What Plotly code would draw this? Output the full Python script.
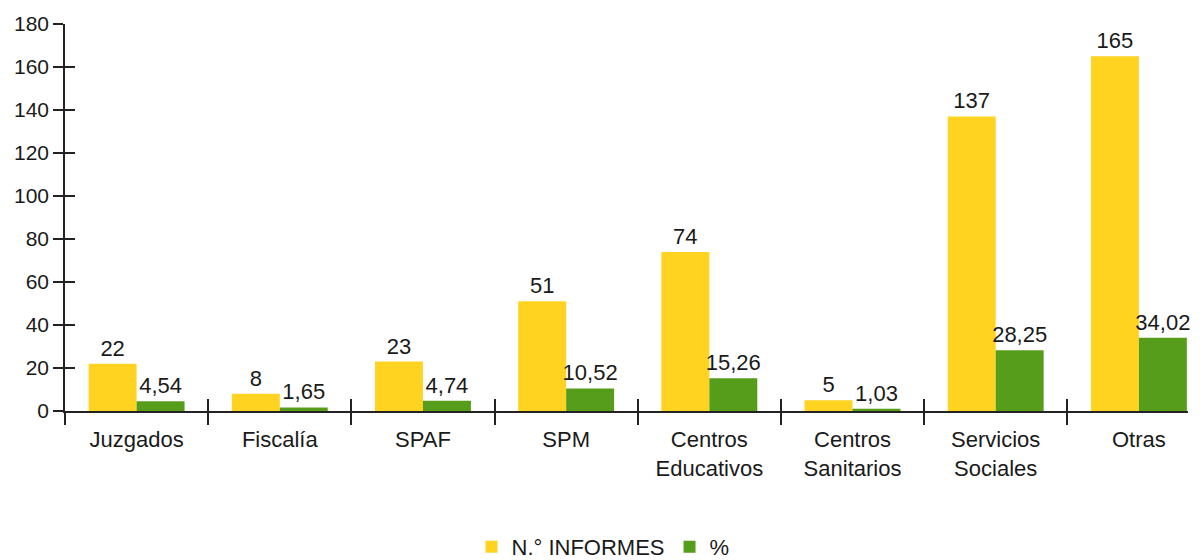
import plotly.graph_objects as go

categories = ["Juzgados", "Fiscalía", "SPAF", "SPM", "Centros<br>Educativos",
              "Centros<br>Sanitarios", "Servicios<br>Sociales", "Otras"]
informes = [22, 8, 23, 51, 74, 5, 137, 165]
porcentaje = [4.54, 1.65, 4.74, 10.52, 15.26, 1.03, 28.25, 34.02]
informes_labels = [str(v) for v in informes]
porcentaje_labels = [f"{v:.2f}".replace(".", ",") for v in porcentaje]
y_ticks = [0, 20, 40, 60, 80, 100, 120, 140, 160, 180]

YELLOW = "#FFD320"
GREEN = "#579D1C"
AXIS = "#222222"
FONT = "Liberation Sans, Arial, sans-serif"

xr = [-0.5, 7.343]
yr = [0, 180]

fig = go.Figure()
fig.add_trace(go.Bar(
    x=categories, y=informes, name="N.° INFORMES",
    marker=dict(color=YELLOW, line=dict(width=0)),
    text=informes_labels, textposition="outside", constraintext="none",
    textfont=dict(family=FONT, size=22, color="#1a1a1a"),
    cliponaxis=False,
))
fig.add_trace(go.Bar(
    x=categories, y=porcentaje, name="%",
    marker=dict(color=GREEN, line=dict(width=0)),
    text=porcentaje_labels, textposition="outside", constraintext="none",
    textfont=dict(family=FONT, size=22, color="#1a1a1a"),
    cliponaxis=False,
))
# invisible helper trace so the overlaying tick-only axes get drawn
fig.add_trace(go.Scatter(x=[xr[0]], y=[yr[0]], xaxis="x2", yaxis="y2",
                         showlegend=False, hoverinfo="skip", mode="markers",
                         marker=dict(opacity=0, size=1)))

fig.update_layout(
    width=1203, height=560,
    margin=dict(l=57, r=23, t=16, b=157, autoexpand=False),
    paper_bgcolor="white", plot_bgcolor="white",
    barmode="group", bargap=0.33, bargroupgap=0,
    font=dict(family=FONT, size=22, color="#1a1a1a"),
    showlegend=True,
    legend=dict(
        orientation="h", xref="container", yref="container",
        x=0.4946, xanchor="center", y=-0.004, yanchor="bottom",
        font=dict(family="Liberation Sans Narrow, Liberation Sans, sans-serif", size=22, color="#1a1a1a"),
        itemwidth=30, traceorder="normal",
    ),
    xaxis=dict(
        type="category", range=xr, tickson="boundaries", automargin=False,
        ticks="outside", ticklen=12, tickwidth=1.5, tickcolor=AXIS,
        ticklabelstandoff=8,
        showline=True, linecolor=AXIS, linewidth=1.5,
        showgrid=False, zeroline=False,
        tickfont=dict(family=FONT, size=22, color="#1a1a1a"),
    ),
    xaxis2=dict(
        overlaying="x", range=xr, type="linear", automargin=False,
        tickvals=[i - 0.5 for i in range(len(categories) + 1)],
        ticks="inside", ticklen=12, tickwidth=1.5, tickcolor=AXIS,
        showticklabels=False, showline=False, showgrid=False, zeroline=False,
        side="bottom", anchor="y2",
    ),
    yaxis=dict(
        range=yr, tickvals=y_ticks, automargin=False,
        ticks="outside", ticklen=10, tickwidth=1.5, tickcolor=AXIS,
        showline=True, linecolor=AXIS, linewidth=1.5,
        showgrid=False, zeroline=False,
        tickfont=dict(family=FONT, size=21, color="#1a1a1a"),
    ),
    yaxis2=dict(
        overlaying="y", range=yr, tickvals=y_ticks, automargin=False,
        ticks="inside", ticklen=10, tickwidth=1.5, tickcolor=AXIS,
        showticklabels=False, showline=False, showgrid=False, zeroline=False,
        side="left", anchor="x2",
    ),
)

fig.write_html("out.html")
